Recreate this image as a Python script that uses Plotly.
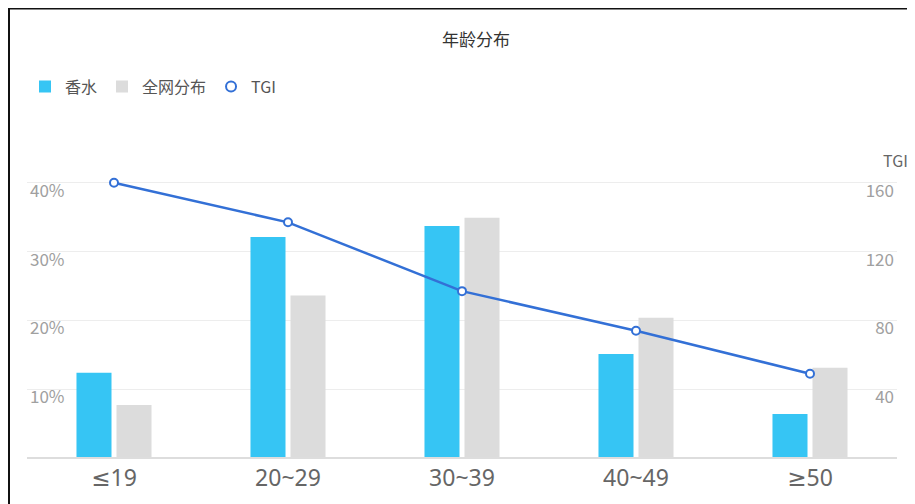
import plotly.graph_objects as go

categories = ["≤19", "20~29", "30~39", "40~49", "≥50"]
perfume = [0.124, 0.321, 0.337, 0.151, 0.064]
network = [0.077, 0.236, 0.349, 0.204, 0.131]
tgi = [160, 137, 97, 74, 49]

OFF = 8  # default body margin of the page
W, H = 915 - OFF, 504 - OFF
# plot area in reference page pixels
PX0, PX1 = 27, 897
PY_BASE = 458
PX_PER_10 = 68.75
Y_TOP_FRAC = 0.42
PY_TOP = PY_BASE - PX_PER_10 * Y_TOP_FRAC * 10

L = PX0 - OFF
R = W - (PX1 - OFF)
T = PY_TOP - OFF
B = H - (PY_BASE - OFF)
pw, ph = W - L - R, H - T - B


def px_x(x):
    return (x - OFF - L) / pw


def px_y(y):
    return (PY_BASE - y) / ph


FONT = "Noto Sans CJK SC"
LATIN = "Noto Sans, DejaVu Sans"
BLUE = "#36C5F4"
GRAY = "#DCDCDC"
LINE = "#3370D6"

fig = go.Figure()
fig.add_trace(go.Bar(name="香水", x=categories, y=perfume, marker_color=BLUE,
                     marker_line_width=0))
fig.add_trace(go.Bar(name="全网分布", x=categories, y=network, marker_color=GRAY,
                     marker_line_width=0))
fig.add_trace(go.Scatter(name="TGI", x=categories, y=tgi, yaxis="y2", mode="lines+markers",
                         line=dict(color=LINE, width=2.5),
                         marker=dict(symbol="circle", size=8, color="white",
                                     line=dict(color=LINE, width=2)),
                         showlegend=False, cliponaxis=False))
fig.add_trace(go.Scatter(name="TGI", x=[None], y=[None], yaxis="y2", mode="markers",
                         marker=dict(symbol="circle-open", size=10,
                                     line=dict(color=LINE, width=2), color=LINE)))

fig.update_layout(
    width=W, height=H,
    margin=dict(l=L, r=R, t=T, b=B),
    paper_bgcolor="white", plot_bgcolor="white",
    font=dict(family=FONT),
    barmode="group", bargap=0.54, bargroupgap=0.125,
    showlegend=True,
    legend=dict(orientation="h", x=px_x(25), xanchor="left", y=px_y(87), yanchor="middle",
                font=dict(size=16, color="#555555"), itemwidth=30,
                traceorder="normal", bgcolor="rgba(0,0,0,0)"),
    xaxis=dict(range=[-0.5, 4.5], showgrid=False, showline=False, zeroline=False, ticks="",
               tickfont=dict(size=23, color="#666666", family=LATIN),
               ticklabelstandoff=4),
    yaxis=dict(range=[0, Y_TOP_FRAC], tickvals=[0.1, 0.2, 0.3, 0.4],
               ticktext=["10%", "20%", "30%", "40%"],
               showgrid=True, gridcolor="#EDEDED", gridwidth=1,
               zeroline=False, showline=False, ticks="",
               ticklabelposition="inside", ticklabelshift=8,
               tickfont=dict(size=17, color="#A0A0A0", family=FONT)),
    yaxis2=dict(range=[0, Y_TOP_FRAC * 400], tickvals=[40, 80, 120, 160], overlaying="y",
                side="right", showgrid=False, zeroline=False, showline=False, ticks="",
                ticklabelposition="inside", ticklabelshift=8,
                tickfont=dict(size=17, color="#A0A0A0", family=FONT)),
    title=dict(text="年龄分布", x=(476 - OFF) / W, xanchor="center",
               y=1 - (40 - OFF) / H, yanchor="middle",
               font=dict(size=17, color="#333333", family=FONT)),
)

fig.add_annotation(text="TGI", xref="paper", yref="paper", x=px_x(895), y=px_y(160),
                   xanchor="center", yanchor="middle", showarrow=False,
                   font=dict(size=16, color="#666666", family=FONT))

# baseline
fig.add_shape(type="line", xref="paper", yref="paper", x0=0, x1=1, y0=0, y1=0,
              line=dict(color="#DDDDDD", width=2), layer="above")
# frame of the screenshot
fig.add_shape(type="path", xref="paper", yref="paper",
              path=f"M {px_x(9)} {px_y(520)} L {px_x(9)} {px_y(9)} L {px_x(909)} {px_y(9)}",
              line=dict(color="#111111", width=2))
fig.add_shape(type="line", xref="paper", yref="paper", x0=px_x(910), x1=px_x(910),
              y0=px_y(10), y1=px_y(520), line=dict(color="#E6E6E6", width=1))

fig.write_html("out.html")
